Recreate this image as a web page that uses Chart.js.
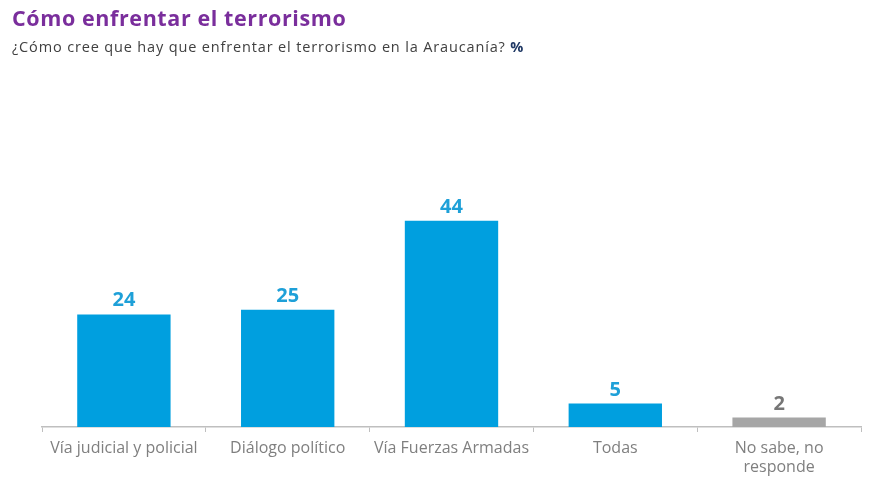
<!DOCTYPE html>
<html>
<head>
<meta charset="utf-8">
<script src="https://cdn.jsdelivr.net/npm/chart.js@4"></script>
<style>
  html, body { margin: 0; padding: 0; background: #ffffff; }
  #wrap { position: relative; width: 878px; height: 490px; overflow: hidden; }
  #title { position: absolute; left: 12px; top: 3px; font-family: "Open Sans", sans-serif; font-weight: 700; font-size: 21.5px; letter-spacing: 0.6px; color: #7a2e9c; white-space: nowrap; }
  #subtitle { position: absolute; left: 12px; top: 37px; font-family: "Open Sans", sans-serif; font-size: 14.5px; letter-spacing: 0.85px; color: #404040; white-space: nowrap; }
  #subtitle b { color: #1f3864; }
  canvas { position: absolute; left: 0; top: 0; }
</style>
</head>
<body>
<div id="wrap">
  <canvas id="c" width="878" height="490"></canvas>
  <div id="title">Cómo enfrentar el terrorismo</div>
  <div id="subtitle">¿Cómo cree que hay que enfrentar el terrorismo en la Araucanía? <b>%</b></div>
</div>
<script>
const categories = ["Vía judicial y policial", "Diálogo político", "Vía Fuerzas Armadas", "Todas", ["No sabe, no", "responde"]];
const values = [24, 25, 44, 5, 2];
const barColors = ["#009fdf", "#009fdf", "#009fdf", "#009fdf", "#a6a6a6"];
const valueColors = ["#1ea0d8", "#1ea0d8", "#1ea0d8", "#1ea0d8", "#767676"];

const valueLabels = {
  id: "valueLabels",
  afterDatasetsDraw(chart) {
    const ctx = chart.ctx;
    const meta = chart.getDatasetMeta(0);
    ctx.save();
    ctx.font = "700 20px 'Open Sans', sans-serif";
    ctx.textAlign = "center";
    ctx.textBaseline = "alphabetic";
    meta.data.forEach((bar, i) => {
      ctx.fillStyle = valueColors[i];
      ctx.fillText(String(values[i]), bar.x, bar.y - 8);
    });
    ctx.restore();
  }
};

new Chart(document.getElementById("c"), {
  type: "bar",
  data: {
    labels: categories,
    datasets: [{
      data: values,
      backgroundColor: barColors,
      borderWidth: 0,
      categoryPercentage: 1,
      barPercentage: 0.57
    }]
  },
  options: {
    responsive: false,
    animation: false,
    devicePixelRatio: 1,
    layout: { padding: { left: 42, right: 17, top: 80, bottom: 0 } },
    plugins: { legend: { display: false }, tooltip: { enabled: false }, title: { display: false } },
    scales: {
      x: {
        offset: true,
        grid: { display: true, offset: true, drawOnChartArea: false, drawTicks: true, tickLength: 5, color: "#bfbfbf", lineWidth: 1 },
        border: { display: true, color: "#bfbfbf", width: 1.5 },
        ticks: { color: "#7f7f7f", padding: 7, maxRotation: 0, autoSkip: false,
                 font: { family: "'Open Sans', sans-serif", size: 16, lineHeight: 1.2 } },
        afterFit(scale) { scale.height = 63; }
      },
      y: { display: false, min: 0, max: 74 }
    }
  },
  plugins: [valueLabels]
});
</script>
</body>
</html>
